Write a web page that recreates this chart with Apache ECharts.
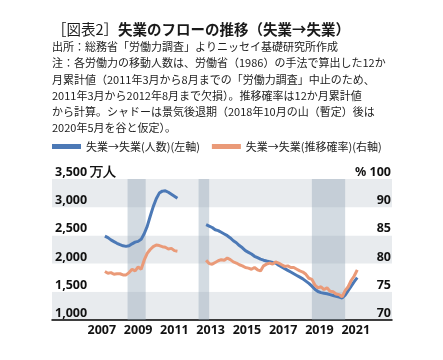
<!DOCTYPE html>
<html><head><meta charset="utf-8">
<script src="https://cdn.jsdelivr.net/npm/echarts@6/dist/echarts.min.js"></script>
<style>html,body{margin:0;padding:0;background:#fff}#c{width:443px;height:360px}</style>
</head><body><div id="c"></div>
<script>
const titleMain = '失業のフローの推移（失業→失業）';
const titleTag = '［図表2］';
const noteLines = [
  '出所：総務省「労働力調査」よりニッセイ基礎研究所作成',
  '注：各労働力の移動人数は、労働省（1986）の手法で算出した12か',
  '月累計値（2011年3月から8月までの「労働力調査」中止のため、',
  '2011年3月から2012年8月まで欠損）。推移確率は12か月累計値',
  'から計算。シャドーは景気後退期（2018年10月の山（暫定）後は',
  '2020年5月を谷と仮定）。'
];
const seriesNames = ['失業→失業(人数)(左軸)', '失業→失業(推移確率)(右軸)'];
const yearLabels = [2007, 2009, 2011, 2013, 2015, 2017, 2019, 2021];
const leftTicks = [1000, 1500, 2000, 2500, 3000, 3500];
const rightTicks = [70, 75, 80, 85, 90, 95];
const rightTickText = ['70', '75', '80', '85', '90', '% 100'];
const recessions = [['2008-06', '2009-06'], ['2012-05', '2012-12'], ['2018-08', '2020-06']];

const dates1 = ['2007-03','2007-05','2007-07','2007-09','2007-11','2008-01','2008-03','2008-05','2008-07','2008-09','2008-11','2009-01','2009-03','2009-05','2009-07','2009-09','2009-11','2010-01','2010-03','2010-05','2010-07','2010-09','2010-11','2011-01','2011-03'];
const people1 = [2488,2460,2420,2390,2360,2335,2315,2305,2315,2350,2380,2394,2430,2530,2660,2840,3010,3150,3250,3285,3290,3265,3230,3195,3160];
const prob1 = [78.6,78.3,78.4,78.1,78.2,78.2,78.0,78.0,78.4,79.0,78.7,79.4,79.0,80.6,81.8,82.5,83.0,83.3,83.2,83.0,82.9,82.6,82.7,82.3,82.2];

const dates2 = ['2012-10','2012-12','2013-02','2013-04','2013-06','2013-08','2013-10','2013-12','2014-02','2014-04','2014-06','2014-08','2014-10','2014-12','2015-02','2015-04','2015-06','2015-08','2015-10','2015-12','2016-02','2016-04','2016-06','2016-08','2016-10','2016-12','2017-02','2017-04','2017-06','2017-08','2017-10','2017-12','2018-02','2018-04','2018-06','2018-08','2018-10','2018-12','2019-02','2019-04','2019-06','2019-08','2019-10','2019-12','2020-02','2020-04','2020-06','2020-08','2020-10','2020-12','2021-02'];
const people2 = [2690,2665,2640,2600,2585,2555,2525,2495,2455,2405,2370,2320,2280,2230,2200,2170,2130,2105,2080,2060,2045,2035,2020,2010,1970,1940,1910,1880,1850,1820,1790,1760,1730,1690,1650,1600,1545,1505,1485,1475,1465,1450,1435,1420,1405,1390,1440,1520,1600,1680,1750];
const prob2 = [80.6,80.0,79.9,80.2,80.5,80.7,80.6,81.0,80.7,80.3,80.1,79.8,79.6,79.3,79.2,79.0,79.3,78.9,78.7,79.6,79.9,80.1,79.9,80.3,80.1,79.8,79.5,79.6,79.3,79.3,79.0,78.7,78.5,78.1,77.4,77.2,76.2,75.7,75.9,75.4,75.7,75.1,75.0,74.6,74.5,74.1,75.2,75.9,77.0,77.8,78.9];

function ym(s) { const p = s.split('-'); return +p[0] + (+p[1] - 1) / 12; }
function pairs(d, v) { return d.map((s, i) => [ym(s), v[i]]); }

const BLUE = '#4c79b6', ORANGE = '#ea9a78';
const FONT = '"Noto Sans CJK JP", "Noto Sans", sans-serif';
const NUMFONT = '"Noto Sans", "DejaVu Sans", sans-serif';

const chart = echarts.init(document.getElementById('c'), null, { renderer: 'canvas' });
const lineCommon = { type: 'line', showSymbol: false, symbol: 'none', lineStyle: { width: 3 }, z: 3 };
chart.setOption({
  animation: false,
  backgroundColor: '#fff',
  title: {
    left: 52, top: 22, padding: 0,
    text: '{a|' + titleTag + '}{b|' + titleMain + '}',
    textStyle: { rich: {
      a: { fontFamily: FONT, fontSize: 14.5, fontWeight: 'normal', color: '#1a1a1a' },
      b: { fontFamily: FONT, fontSize: 14.5, fontWeight: 'bold', color: '#1a1a1a' }
    } }
  },
  graphic: [{
    type: 'text', left: 52, top: 39,
    style: { text: noteLines.join('\n'), fontFamily: FONT, fontSize: 11, lineHeight: 16.2, fill: '#222' }
  }],
  legend: {
    left: 52, top: 141, padding: 0, itemGap: 12, itemWidth: 29, itemHeight: 5, icon: 'rect',
    data: seriesNames,
    textStyle: { fontFamily: FONT, fontSize: 11, color: '#222', padding: [0, 0, 0, 0] }
  },
  grid: { left: 52, right: 51, top: 179, bottom: 40, containLabel: false },
  xAxis: {
    type: 'value', min: 2004.25, max: 2023.0,
    axisLine: { show: true, lineStyle: { color: '#000', width: 1.5 } },
    axisTick: { show: false },
    splitLine: { show: false },
    axisLabel: {
      customValues: yearLabels, margin: 4,
      formatter: v => String(Math.round(v)),
      fontFamily: NUMFONT, fontSize: 12.5, fontWeight: 'bold', color: '#111'
    }
  },
  yAxis: [{
    type: 'value', position: 'left', min: 1000, max: 3500, interval: 500,
    axisLine: { show: false }, axisTick: { show: false }, splitLine: { show: false },
    splitArea: { show: true, areaStyle: { color: ['#e8ebee', '#ffffff'] } },
    axisLabel: {
      inside: true, margin: 3, verticalAlign: 'bottom', showMaxLabel: true, showMinLabel: true,
      formatter: v => v === leftTicks[leftTicks.length - 1] ? v.toLocaleString('en-US') + ' 万人' : v.toLocaleString('en-US'),
      fontFamily: NUMFONT, fontSize: 12.5, fontWeight: 'bold', color: '#111'
    }
  }, {
    type: 'value', position: 'right', min: 70, max: 95, interval: 5,
    axisLine: { show: false }, axisTick: { show: false }, splitLine: { show: false },
    axisLabel: {
      inside: true, margin: 1, verticalAlign: 'bottom', showMaxLabel: true, showMinLabel: true,
      formatter: v => rightTickText[rightTicks.indexOf(v)] || String(v),
      fontFamily: NUMFONT, fontSize: 12.5, fontWeight: 'bold', color: '#111'
    }
  }],
  series: [
    { type: 'line', data: [], z: 1, silent: true,
      markArea: { silent: true, itemStyle: { color: 'rgba(140,160,180,0.38)' },
        data: recessions.map(r => [{ xAxis: ym(r[0]) }, { xAxis: ym(r[1]) }]) } },
    Object.assign({}, lineCommon, { name: seriesNames[0], yAxisIndex: 0, color: BLUE, data: pairs(dates1, people1) }),
    Object.assign({}, lineCommon, { name: seriesNames[0], yAxisIndex: 0, color: BLUE, data: pairs(dates2, people2) }),
    Object.assign({}, lineCommon, { name: seriesNames[1], yAxisIndex: 1, color: ORANGE, data: pairs(dates1, prob1), z: 4 }),
    Object.assign({}, lineCommon, { name: seriesNames[1], yAxisIndex: 1, color: ORANGE, data: pairs(dates2, prob2), z: 4 })
  ]
});
</script></body></html>
